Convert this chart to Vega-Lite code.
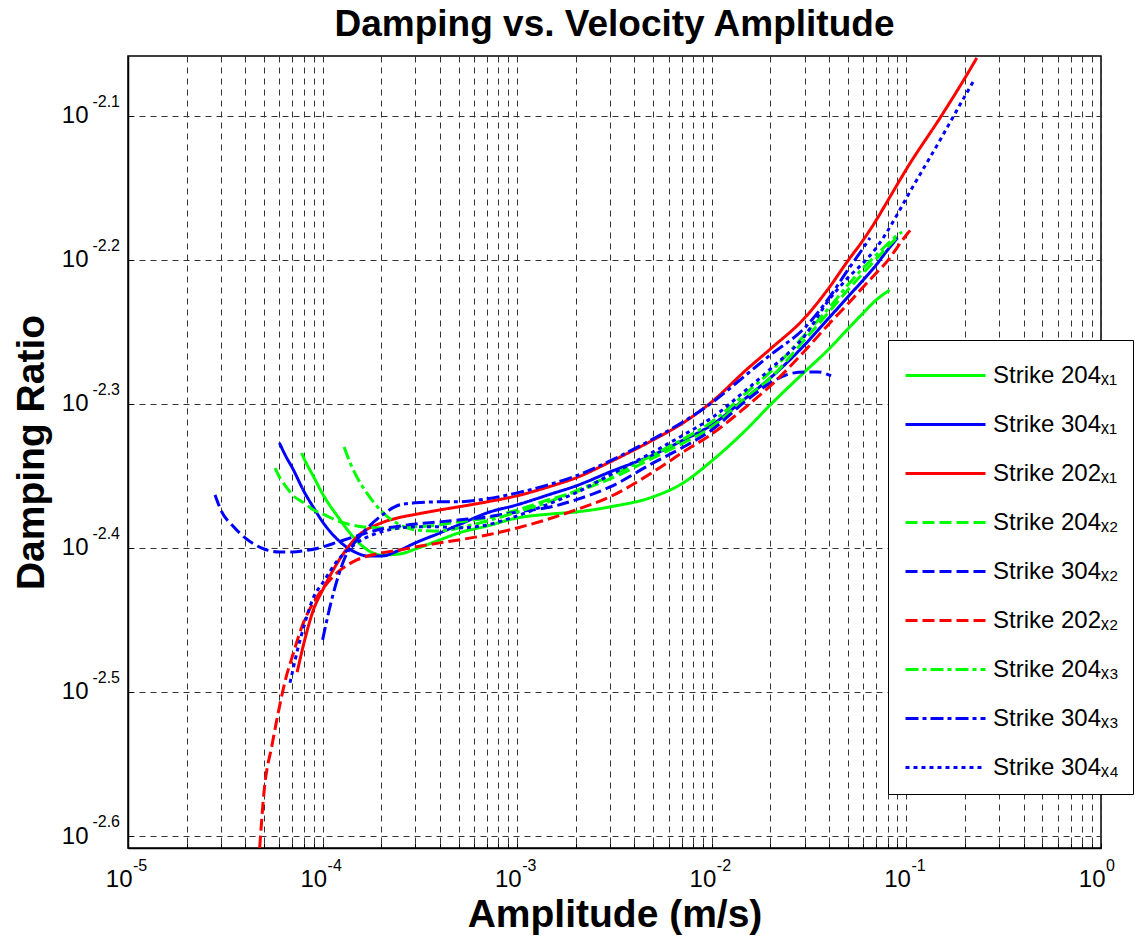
{
  "$schema": "https://vega.github.io/schema/vega-lite/v6.json",
  "width": 973,
  "height": 792,
  "autosize": {"type": "none"},
  "padding": {"left": 128, "top": 56, "right": 39, "bottom": 92},
  "background": "white",
  "config": {"font": "Liberation Sans", "view": {"stroke": "black", "strokeWidth": 1.5}},
  "title": {"text": "Damping vs. Velocity Amplitude", "fontSize": 37, "fontWeight": "bold", "color": "black", "anchor": "middle", "offset": 12},
  "datasets": {
    "xticks": [
      {"v": 0.00001, "e": "-5"}, {"v": 0.0001, "e": "-4"}, {"v": 0.001, "e": "-3"},
      {"v": 0.01, "e": "-2"}, {"v": 0.1, "e": "-1"}, {"v": 1, "e": "0"}
    ],
    "yticks": [
      {"v": 0.0025119, "e": "-2.6"}, {"v": 0.0031623, "e": "-2.5"}, {"v": 0.0039811, "e": "-2.4"},
      {"v": 0.0050119, "e": "-2.3"}, {"v": 0.0063096, "e": "-2.2"}, {"v": 0.0079433, "e": "-2.1"}
    ],
    "curves": [
      {"series":"Strike 204ₓ₁","amplitude":7.8e-5,"damping":0.004633},
      {"series":"Strike 204ₓ₁","amplitude":8e-5,"damping":0.004597},
      {"series":"Strike 204ₓ₁","amplitude":9e-5,"damping":0.004459},
      {"series":"Strike 204ₓ₁","amplitude":1e-4,"damping":0.004340},
      {"series":"Strike 204ₓ₁","amplitude":1.2e-4,"damping":0.004183},
      {"series":"Strike 204ₓ₁","amplitude":1.5e-4,"damping":0.004026},
      {"series":"Strike 204ₓ₁","amplitude":1.7e-4,"damping":0.003968},
      {"series":"Strike 204ₓ₁","amplitude":2e-4,"damping":0.003936},
      {"series":"Strike 204ₓ₁","amplitude":2.5e-4,"damping":0.003943},
      {"series":"Strike 204ₓ₁","amplitude":3e-4,"damping":0.003974},
      {"series":"Strike 204ₓ₁","amplitude":4e-4,"damping":0.004032},
      {"series":"Strike 204ₓ₁","amplitude":5e-4,"damping":0.004077},
      {"series":"Strike 204ₓ₁","amplitude":7e-4,"damping":0.004123},
      {"series":"Strike 204ₓ₁","amplitude":1e-3,"damping":0.004176},
      {"series":"Strike 204ₓ₁","amplitude":1.5e-3,"damping":0.004203},
      {"series":"Strike 204ₓ₁","amplitude":2e-3,"damping":0.004216},
      {"series":"Strike 204ₓ₁","amplitude":3e-3,"damping":0.004251},
      {"series":"Strike 204ₓ₁","amplitude":5e-3,"damping":0.004320},
      {"series":"Strike 204ₓ₁","amplitude":7e-3,"damping":0.004410},
      {"series":"Strike 204ₓ₁","amplitude":1e-2,"damping":0.004575},
      {"series":"Strike 204ₓ₁","amplitude":1.5e-2,"damping":0.004808},
      {"series":"Strike 204ₓ₁","amplitude":2e-2,"damping":0.005004},
      {"series":"Strike 204ₓ₁","amplitude":3e-2,"damping":0.005274},
      {"series":"Strike 204ₓ₁","amplitude":4e-2,"damping":0.005471},
      {"series":"Strike 204ₓ₁","amplitude":5e-2,"damping":0.005648},
      {"series":"Strike 204ₓ₁","amplitude":6e-2,"damping":0.005795},
      {"series":"Strike 204ₓ₁","amplitude":7e-2,"damping":0.005917},
      {"series":"Strike 204ₓ₁","amplitude":8.2e-2,"damping":0.006011},

      {"series":"Strike 304ₓ₁","amplitude":6e-5,"damping":0.004708},
      {"series":"Strike 304ₓ₁","amplitude":6.5e-5,"damping":0.004604},
      {"series":"Strike 304ₓ₁","amplitude":7e-5,"damping":0.004523},
      {"series":"Strike 304ₓ₁","amplitude":8e-5,"damping":0.004360},
      {"series":"Strike 304ₓ₁","amplitude":9e-5,"damping":0.004244},
      {"series":"Strike 304ₓ₁","amplitude":1e-4,"damping":0.004150},
      {"series":"Strike 304ₓ₁","amplitude":1.2e-4,"damping":0.004032},
      {"series":"Strike 304ₓ₁","amplitude":1.5e-4,"damping":0.003949},
      {"series":"Strike 304ₓ₁","amplitude":1.7e-4,"damping":0.003930},
      {"series":"Strike 304ₓ₁","amplitude":2e-4,"damping":0.003930},
      {"series":"Strike 304ₓ₁","amplitude":2.5e-4,"damping":0.003968},
      {"series":"Strike 304ₓ₁","amplitude":3e-4,"damping":0.004013},
      {"series":"Strike 304ₓ₁","amplitude":4e-4,"damping":0.004077},
      {"series":"Strike 304ₓ₁","amplitude":5e-4,"damping":0.004130},
      {"series":"Strike 304ₓ₁","amplitude":7e-4,"damping":0.004210},
      {"series":"Strike 304ₓ₁","amplitude":1e-3,"damping":0.004265},
      {"series":"Strike 304ₓ₁","amplitude":1.5e-3,"damping":0.004340},
      {"series":"Strike 304ₓ₁","amplitude":2e-3,"damping":0.004395},
      {"series":"Strike 304ₓ₁","amplitude":3e-3,"damping":0.004495},
      {"series":"Strike 304ₓ₁","amplitude":5e-3,"damping":0.004619},
      {"series":"Strike 304ₓ₁","amplitude":7e-3,"damping":0.004723},
      {"series":"Strike 304ₓ₁","amplitude":1e-2,"damping":0.004846},
      {"series":"Strike 304ₓ₁","amplitude":1.5e-2,"damping":0.005060},
      {"series":"Strike 304ₓ₁","amplitude":2e-2,"damping":0.005224},
      {"series":"Strike 304ₓ₁","amplitude":3e-2,"damping":0.005507},
      {"series":"Strike 304ₓ₁","amplitude":4e-2,"damping":0.005749},
      {"series":"Strike 304ₓ₁","amplitude":5e-2,"damping":0.005945},
      {"series":"Strike 304ₓ₁","amplitude":6e-2,"damping":0.006109},
      {"series":"Strike 304ₓ₁","amplitude":7e-2,"damping":0.006258},
      {"series":"Strike 304ₓ₁","amplitude":8e-2,"damping":0.006408},
      {"series":"Strike 304ₓ₁","amplitude":9e-2,"damping":0.006533},

      {"series":"Strike 202ₓ₁","amplitude":7.4e-5,"damping":0.003264},
      {"series":"Strike 202ₓ₁","amplitude":8e-5,"damping":0.003415},
      {"series":"Strike 202ₓ₁","amplitude":9e-5,"damping":0.003610},
      {"series":"Strike 202ₓ₁","amplitude":1e-4,"damping":0.003721},
      {"series":"Strike 202ₓ₁","amplitude":1.2e-4,"damping":0.003893},
      {"series":"Strike 202ₓ₁","amplitude":1.5e-4,"damping":0.004051},
      {"series":"Strike 202ₓ₁","amplitude":2e-4,"damping":0.004143},
      {"series":"Strike 202ₓ₁","amplitude":2.5e-4,"damping":0.004180},
      {"series":"Strike 202ₓ₁","amplitude":3e-4,"damping":0.004200},
      {"series":"Strike 202ₓ₁","amplitude":4e-4,"damping":0.004230},
      {"series":"Strike 202ₓ₁","amplitude":5e-4,"damping":0.004251},
      {"series":"Strike 202ₓ₁","amplitude":7e-4,"damping":0.004285},
      {"series":"Strike 202ₓ₁","amplitude":1e-3,"damping":0.004327},
      {"series":"Strike 202ₓ₁","amplitude":1.5e-3,"damping":0.004395},
      {"series":"Strike 202ₓ₁","amplitude":2e-3,"damping":0.004452},
      {"series":"Strike 202ₓ₁","amplitude":3e-3,"damping":0.004567},
      {"series":"Strike 202ₓ₁","amplitude":5e-3,"damping":0.004731},
      {"series":"Strike 202ₓ₁","amplitude":7e-3,"damping":0.004854},
      {"series":"Strike 202ₓ₁","amplitude":1e-2,"damping":0.005028},
      {"series":"Strike 202ₓ₁","amplitude":1.5e-2,"damping":0.005290},
      {"series":"Strike 202ₓ₁","amplitude":2e-2,"damping":0.005471},
      {"series":"Strike 202ₓ₁","amplitude":3e-2,"damping":0.005749},
      {"series":"Strike 202ₓ₁","amplitude":4e-2,"damping":0.006032},
      {"series":"Strike 202ₓ₁","amplitude":5e-2,"damping":0.006298},
      {"series":"Strike 202ₓ₁","amplitude":6e-2,"damping":0.006512},
      {"series":"Strike 202ₓ₁","amplitude":7e-2,"damping":0.006722},
      {"series":"Strike 202ₓ₁","amplitude":8e-2,"damping":0.006930},
      {"series":"Strike 202ₓ₁","amplitude":9e-2,"damping":0.007120},
      {"series":"Strike 202ₓ₁","amplitude":1e-1,"damping":0.007292},
      {"series":"Strike 202ₓ₁","amplitude":1.5e-1,"damping":0.007927},
      {"series":"Strike 202ₓ₁","amplitude":2e-1,"damping":0.008437},
      {"series":"Strike 202ₓ₁","amplitude":2.3e-1,"damping":0.008711},

      {"series":"Strike 204ₓ₂","amplitude":5.7e-5,"damping":0.004523},
      {"series":"Strike 204ₓ₂","amplitude":6e-5,"damping":0.004459},
      {"series":"Strike 204ₓ₂","amplitude":6.5e-5,"damping":0.004388},
      {"series":"Strike 204ₓ₂","amplitude":7e-5,"damping":0.004333},
      {"series":"Strike 204ₓ₂","amplitude":8e-5,"damping":0.004278},
      {"series":"Strike 204ₓ₂","amplitude":9e-5,"damping":0.004230},
      {"series":"Strike 204ₓ₂","amplitude":1e-4,"damping":0.004203},
      {"series":"Strike 204ₓ₂","amplitude":1.2e-4,"damping":0.004156},
      {"series":"Strike 204ₓ₂","amplitude":1.5e-4,"damping":0.004123},
      {"series":"Strike 204ₓ₂","amplitude":2e-4,"damping":0.004110},
      {"series":"Strike 204ₓ₂","amplitude":2.5e-4,"damping":0.004110},
      {"series":"Strike 204ₓ₂","amplitude":3e-4,"damping":0.004117},
      {"series":"Strike 204ₓ₂","amplitude":4e-4,"damping":0.004130},
      {"series":"Strike 204ₓ₂","amplitude":5e-4,"damping":0.004150},
      {"series":"Strike 204ₓ₂","amplitude":7e-4,"damping":0.004176},
      {"series":"Strike 204ₓ₂","amplitude":1e-3,"damping":0.004230},
      {"series":"Strike 204ₓ₂","amplitude":1.5e-3,"damping":0.004306},
      {"series":"Strike 204ₓ₂","amplitude":2e-3,"damping":0.004354},
      {"series":"Strike 204ₓ₂","amplitude":3e-3,"damping":0.004445},
      {"series":"Strike 204ₓ₂","amplitude":5e-3,"damping":0.004597},
      {"series":"Strike 204ₓ₂","amplitude":7e-3,"damping":0.004701},
      {"series":"Strike 204ₓ₂","amplitude":1e-2,"damping":0.004831},
      {"series":"Strike 204ₓ₂","amplitude":1.5e-2,"damping":0.005060},
      {"series":"Strike 204ₓ₂","amplitude":2e-2,"damping":0.005224},
      {"series":"Strike 204ₓ₂","amplitude":3e-2,"damping":0.005551},
      {"series":"Strike 204ₓ₂","amplitude":4e-2,"damping":0.005804},
      {"series":"Strike 204ₓ₂","amplitude":5e-2,"damping":0.006011},
      {"series":"Strike 204ₓ₂","amplitude":6e-2,"damping":0.006177},
      {"series":"Strike 204ₓ₂","amplitude":7e-2,"damping":0.006318},
      {"series":"Strike 204ₓ₂","amplitude":8e-2,"damping":0.006439},
      {"series":"Strike 204ₓ₂","amplitude":9e-2,"damping":0.006543},

      {"series":"Strike 304ₓ₂","amplitude":2.8e-5,"damping":0.004333},
      {"series":"Strike 304ₓ₂","amplitude":3e-5,"damping":0.004230},
      {"series":"Strike 304ₓ₂","amplitude":3.5e-5,"damping":0.004116},
      {"series":"Strike 304ₓ₂","amplitude":4e-5,"damping":0.004045},
      {"series":"Strike 304ₓ₂","amplitude":5e-5,"damping":0.003974},
      {"series":"Strike 304ₓ₂","amplitude":6e-5,"damping":0.003955},
      {"series":"Strike 304ₓ₂","amplitude":7e-5,"damping":0.003955},
      {"series":"Strike 304ₓ₂","amplitude":8e-5,"damping":0.003962},
      {"series":"Strike 304ₓ₂","amplitude":1e-4,"damping":0.003987},
      {"series":"Strike 304ₓ₂","amplitude":1.2e-4,"damping":0.004019},
      {"series":"Strike 304ₓ₂","amplitude":1.5e-4,"damping":0.004058},
      {"series":"Strike 304ₓ₂","amplitude":2e-4,"damping":0.004103},
      {"series":"Strike 304ₓ₂","amplitude":2.5e-4,"damping":0.004123},
      {"series":"Strike 304ₓ₂","amplitude":3e-4,"damping":0.004136},
      {"series":"Strike 304ₓ₂","amplitude":4e-4,"damping":0.004150},
      {"series":"Strike 304ₓ₂","amplitude":5e-4,"damping":0.004163},
      {"series":"Strike 304ₓ₂","amplitude":7e-4,"damping":0.004183},
      {"series":"Strike 304ₓ₂","amplitude":1e-3,"damping":0.004216},
      {"series":"Strike 304ₓ₂","amplitude":1.5e-3,"damping":0.004251},
      {"series":"Strike 304ₓ₂","amplitude":2e-3,"damping":0.004299},
      {"series":"Strike 304ₓ₂","amplitude":3e-3,"damping":0.004388},
      {"series":"Strike 304ₓ₂","amplitude":5e-3,"damping":0.004560},
      {"series":"Strike 304ₓ₂","amplitude":7e-3,"damping":0.004670},
      {"series":"Strike 304ₓ₂","amplitude":1e-2,"damping":0.004807},
      {"series":"Strike 304ₓ₂","amplitude":1.5e-2,"damping":0.005036},
      {"series":"Strike 304ₓ₂","amplitude":2e-2,"damping":0.005182},
      {"series":"Strike 304ₓ₂","amplitude":2.5e-2,"damping":0.005257},
      {"series":"Strike 304ₓ₂","amplitude":3e-2,"damping":0.005274},
      {"series":"Strike 304ₓ₂","amplitude":3.5e-2,"damping":0.005274},
      {"series":"Strike 304ₓ₂","amplitude":4.1e-2,"damping":0.005240},

      {"series":"Strike 202ₓ₂","amplitude":4.75e-5,"damping":0.002465},
      {"series":"Strike 202ₓ₂","amplitude":5e-5,"damping":0.002695},
      {"series":"Strike 202ₓ₂","amplitude":5.5e-5,"damping":0.002906},
      {"series":"Strike 202ₓ₂","amplitude":6e-5,"damping":0.003088},
      {"series":"Strike 202ₓ₂","amplitude":6.5e-5,"damping":0.003239},
      {"series":"Strike 202ₓ₂","amplitude":7e-5,"damping":0.003349},
      {"series":"Strike 202ₓ₂","amplitude":8e-5,"damping":0.003537},
      {"series":"Strike 202ₓ₂","amplitude":9e-5,"damping":0.003651},
      {"series":"Strike 202ₓ₂","amplitude":1e-4,"damping":0.003728},
      {"series":"Strike 202ₓ₂","amplitude":1.2e-4,"damping":0.003831},
      {"series":"Strike 202ₓ₂","amplitude":1.5e-4,"damping":0.003905},
      {"series":"Strike 202ₓ₂","amplitude":2e-4,"damping":0.003949},
      {"series":"Strike 202ₓ₂","amplitude":2.5e-4,"damping":0.003968},
      {"series":"Strike 202ₓ₂","amplitude":3e-4,"damping":0.003987},
      {"series":"Strike 202ₓ₂","amplitude":4e-4,"damping":0.004013},
      {"series":"Strike 202ₓ₂","amplitude":5e-4,"damping":0.004032},
      {"series":"Strike 202ₓ₂","amplitude":7e-4,"damping":0.004064},
      {"series":"Strike 202ₓ₂","amplitude":1e-3,"damping":0.004110},
      {"series":"Strike 202ₓ₂","amplitude":2e-3,"damping":0.004230},
      {"series":"Strike 202ₓ₂","amplitude":3e-3,"damping":0.004320},
      {"series":"Strike 202ₓ₂","amplitude":5e-3,"damping":0.004495},
      {"series":"Strike 202ₓ₂","amplitude":7e-3,"damping":0.004633},
      {"series":"Strike 202ₓ₂","amplitude":1e-2,"damping":0.004776},
      {"series":"Strike 202ₓ₂","amplitude":1.5e-2,"damping":0.004988},
      {"series":"Strike 202ₓ₂","amplitude":2e-2,"damping":0.005157},
      {"series":"Strike 202ₓ₂","amplitude":3e-2,"damping":0.005453},
      {"series":"Strike 202ₓ₂","amplitude":4e-2,"damping":0.005694},
      {"series":"Strike 202ₓ₂","amplitude":5e-2,"damping":0.005879},
      {"series":"Strike 202ₓ₂","amplitude":6e-2,"damping":0.006041},
      {"series":"Strike 202ₓ₂","amplitude":7e-2,"damping":0.006177},
      {"series":"Strike 202ₓ₂","amplitude":8e-2,"damping":0.006298},
      {"series":"Strike 202ₓ₂","amplitude":9e-2,"damping":0.006439},
      {"series":"Strike 202ₓ₂","amplitude":1e-1,"damping":0.006564},
      {"series":"Strike 202ₓ₂","amplitude":1.08e-1,"damping":0.006647},

      {"series":"Strike 204ₓ₃","amplitude":1.29e-4,"damping":0.004678},
      {"series":"Strike 204ₓ₃","amplitude":1.4e-4,"damping":0.004545},
      {"series":"Strike 204ₓ₃","amplitude":1.5e-4,"damping":0.004459},
      {"series":"Strike 204ₓ₃","amplitude":1.7e-4,"damping":0.004340},
      {"series":"Strike 204ₓ₃","amplitude":2e-4,"damping":0.004223},
      {"series":"Strike 204ₓ₃","amplitude":2.5e-4,"damping":0.004130},
      {"series":"Strike 204ₓ₃","amplitude":3e-4,"damping":0.004097},
      {"series":"Strike 204ₓ₃","amplitude":4e-4,"damping":0.004090},
      {"series":"Strike 204ₓ₃","amplitude":5e-4,"damping":0.004110},
      {"series":"Strike 204ₓ₃","amplitude":7e-4,"damping":0.004156},
      {"series":"Strike 204ₓ₃","amplitude":1e-3,"damping":0.004216},
      {"series":"Strike 204ₓ₃","amplitude":1.5e-3,"damping":0.004292},
      {"series":"Strike 204ₓ₃","amplitude":2e-3,"damping":0.004360},
      {"series":"Strike 204ₓ₃","amplitude":3e-3,"damping":0.004466},
      {"series":"Strike 204ₓ₃","amplitude":5e-3,"damping":0.004619},
      {"series":"Strike 204ₓ₃","amplitude":7e-3,"damping":0.004731},
      {"series":"Strike 204ₓ₃","amplitude":1e-2,"damping":0.004869},
      {"series":"Strike 204ₓ₃","amplitude":1.5e-2,"damping":0.005099},
      {"series":"Strike 204ₓ₃","amplitude":2e-2,"damping":0.005274},
      {"series":"Strike 204ₓ₃","amplitude":3e-2,"damping":0.005595},
      {"series":"Strike 204ₓ₃","amplitude":4e-2,"damping":0.005841},
      {"series":"Strike 204ₓ₃","amplitude":5e-2,"damping":0.006060},
      {"series":"Strike 204ₓ₃","amplitude":6e-2,"damping":0.006227},
      {"series":"Strike 204ₓ₃","amplitude":7e-2,"damping":0.006358},
      {"series":"Strike 204ₓ₃","amplitude":8e-2,"damping":0.006470},
      {"series":"Strike 204ₓ₃","amplitude":9e-2,"damping":0.006564},
      {"series":"Strike 204ₓ₃","amplitude":9.5e-2,"damping":0.006595},

      {"series":"Strike 304ₓ₃","amplitude":1e-4,"damping":0.003437},
      {"series":"Strike 304ₓ₃","amplitude":1.1e-4,"damping":0.003640},
      {"series":"Strike 304ₓ₃","amplitude":1.2e-4,"damping":0.003800},
      {"series":"Strike 304ₓ₃","amplitude":1.3e-4,"damping":0.003917},
      {"series":"Strike 304ₓ₃","amplitude":1.5e-4,"damping":0.004032},
      {"series":"Strike 304ₓ₃","amplitude":1.7e-4,"damping":0.004110},
      {"series":"Strike 304ₓ₃","amplitude":2e-4,"damping":0.004190},
      {"series":"Strike 304ₓ₃","amplitude":2.5e-4,"damping":0.004265},
      {"series":"Strike 304ₓ₃","amplitude":3e-4,"damping":0.004278},
      {"series":"Strike 304ₓ₃","amplitude":4e-4,"damping":0.004285},
      {"series":"Strike 304ₓ₃","amplitude":5e-4,"damping":0.004285},
      {"series":"Strike 304ₓ₃","amplitude":7e-4,"damping":0.004306},
      {"series":"Strike 304ₓ₃","amplitude":1e-3,"damping":0.004347},
      {"series":"Strike 304ₓ₃","amplitude":1.5e-3,"damping":0.004410},
      {"series":"Strike 304ₓ₃","amplitude":2e-3,"damping":0.004466},
      {"series":"Strike 304ₓ₃","amplitude":3e-3,"damping":0.004575},
      {"series":"Strike 304ₓ₃","amplitude":5e-3,"damping":0.004739},
      {"series":"Strike 304ₓ₃","amplitude":7e-3,"damping":0.004862},
      {"series":"Strike 304ₓ₃","amplitude":1e-2,"damping":0.005020},
      {"series":"Strike 304ₓ₃","amplitude":1.5e-2,"damping":0.005249},
      {"series":"Strike 304ₓ₃","amplitude":2e-2,"damping":0.005419},
      {"series":"Strike 304ₓ₃","amplitude":3e-2,"damping":0.005658},
      {"series":"Strike 304ₓ₃","amplitude":4e-2,"damping":0.005936},
      {"series":"Strike 304ₓ₃","amplitude":5e-2,"damping":0.006207},
      {"series":"Strike 304ₓ₃","amplitude":6e-2,"damping":0.006429},
      {"series":"Strike 304ₓ₃","amplitude":6.5e-2,"damping":0.006533},

      {"series":"Strike 304ₓ₄","amplitude":6.8e-5,"damping":0.003209},
      {"series":"Strike 304ₓ₄","amplitude":7e-5,"damping":0.003265},
      {"series":"Strike 304ₓ₄","amplitude":7.5e-5,"damping":0.003399},
      {"series":"Strike 304ₓ₄","amplitude":8e-5,"damping":0.003508},
      {"series":"Strike 304ₓ₄","amplitude":9e-5,"damping":0.003681},
      {"series":"Strike 304ₓ₄","amplitude":1e-4,"damping":0.003764},
      {"series":"Strike 304ₓ₄","amplitude":1.2e-4,"damping":0.003905},
      {"series":"Strike 304ₓ₄","amplitude":1.5e-4,"damping":0.004013},
      {"series":"Strike 304ₓ₄","amplitude":2e-4,"damping":0.004084},
      {"series":"Strike 304ₓ₄","amplitude":2.5e-4,"damping":0.004110},
      {"series":"Strike 304ₓ₄","amplitude":3e-4,"damping":0.004117},
      {"series":"Strike 304ₓ₄","amplitude":4e-4,"damping":0.004117},
      {"series":"Strike 304ₓ₄","amplitude":5e-4,"damping":0.004110},
      {"series":"Strike 304ₓ₄","amplitude":7e-4,"damping":0.004130},
      {"series":"Strike 304ₓ₄","amplitude":1e-3,"damping":0.004190},
      {"series":"Strike 304ₓ₄","amplitude":1.5e-3,"damping":0.004278},
      {"series":"Strike 304ₓ₄","amplitude":2e-3,"damping":0.004347},
      {"series":"Strike 304ₓ₄","amplitude":3e-3,"damping":0.004474},
      {"series":"Strike 304ₓ₄","amplitude":5e-3,"damping":0.004641},
      {"series":"Strike 304ₓ₄","amplitude":7e-3,"damping":0.004761},
      {"series":"Strike 304ₓ₄","amplitude":1e-2,"damping":0.004901},
      {"series":"Strike 304ₓ₄","amplitude":1.5e-2,"damping":0.005124},
      {"series":"Strike 304ₓ₄","amplitude":2e-2,"damping":0.005299},
      {"series":"Strike 304ₓ₄","amplitude":3e-2,"damping":0.005587},
      {"series":"Strike 304ₓ₄","amplitude":4e-2,"damping":0.005917},
      {"series":"Strike 304ₓ₄","amplitude":5e-2,"damping":0.006129},
      {"series":"Strike 304ₓ₄","amplitude":6e-2,"damping":0.006278},
      {"series":"Strike 304ₓ₄","amplitude":7e-2,"damping":0.006429},
      {"series":"Strike 304ₓ₄","amplitude":8e-2,"damping":0.006606},
      {"series":"Strike 304ₓ₄","amplitude":9e-2,"damping":0.006787},
      {"series":"Strike 304ₓ₄","amplitude":1e-1,"damping":0.006963},
      {"series":"Strike 304ₓ₄","amplitude":1.5e-1,"damping":0.007652},
      {"series":"Strike 304ₓ₄","amplitude":2e-1,"damping":0.008197},
      {"series":"Strike 304ₓ₄","amplitude":2.2e-1,"damping":0.008383}
    ]
  },
  "layer": [
    {
      "data": {"name": "curves"},
      "mark": {"type": "line", "strokeWidth": 3, "clip": true, "interpolate": "monotone"},
      "encoding": {
        "x": {
          "field": "amplitude", "type": "quantitative", "title": "Amplitude (m/s)",
          "scale": {"type": "log", "domain": [0.00001, 1], "nice": false},
          "axis": {
            "title": "Amplitude (m/s)", "titleFontSize": 39, "titleFontWeight": "bold", "titleColor": "black", "titlePadding": 4,
            "values": [0.00001,0.00002,0.00003,0.00004,0.00005,0.00006,0.00007,0.00008,0.00009,0.0001,0.0002,0.0003,0.0004,0.0005,0.0006,0.0007,0.0008,0.0009,0.001,0.002,0.003,0.004,0.005,0.006,0.007,0.008,0.009,0.01,0.02,0.03,0.04,0.05,0.06,0.07,0.08,0.09,0.1,0.2,0.3,0.4,0.5,0.6,0.7,0.8,0.9,1],
            "labelExpr": "abs(log(datum.value)/LN10 - round(log(datum.value)/LN10)) < 0.01 ? '10' : ''",
            "labelAlign": "right", "labelBaseline": "top", "labelPadding": 24, "labelOffset": 4,
            "labelFontSize": 24, "labelColor": "black", "labelOverlap": false, "labelFlush": false, "labelBound": false,
            "ticks": true, "tickSize": -5, "tickColor": "black", "tickWidth": 1,
            "grid": true, "gridColor": "#333333", "gridDash": [6, 5], "gridWidth": 1,
            "domainColor": "black", "domainWidth": 1.5
          }
        },
        "y": {
          "field": "damping", "type": "quantitative", "title": "Damping Ratio",
          "scale": {"type": "log", "domain": [0.0024643, 0.0087378], "nice": false, "zero": false},
          "axis": {
            "title": "Damping Ratio", "titleFontSize": 39, "titleFontWeight": "bold", "titleColor": "black", "titlePadding": 10,
            "values": [0.0025119, 0.0031623, 0.0039811, 0.0050119, 0.0063096, 0.0079433],
            "labelExpr": "'10'",
            "labelAlign": "right", "labelBaseline": "middle", "labelPadding": 45,
            "labelFontSize": 24, "labelColor": "black", "labelOverlap": false, "labelFlush": false, "labelBound": false,
            "ticks": true, "tickSize": -5, "tickColor": "black", "tickWidth": 1,
            "grid": true, "gridColor": "#333333", "gridDash": [6, 5], "gridWidth": 1,
            "domainColor": "black", "domainWidth": 1.5
          }
        },
        "color": {
          "field": "series", "type": "nominal",
          "scale": {
            "domain": ["Strike 204ₓ₁","Strike 304ₓ₁","Strike 202ₓ₁","Strike 204ₓ₂","Strike 304ₓ₂","Strike 202ₓ₂","Strike 204ₓ₃","Strike 304ₓ₃","Strike 304ₓ₄"],
            "range": ["#00ff00","#0000ff","#ff0000","#00ff00","#0000ff","#ff0000","#00ff00","#0000ff","#0000ff"]
          },
          "legend": {
            "title": null, "orient": "none", "legendX": 760, "legendY": 284,
            "symbolType": "M-2,0L2,0", "symbolSize": 1600, "symbolStrokeWidth": 3, "symbolOffset": 22,
            "labelFontSize": 24, "labelColor": "black", "labelOffset": 26, "labelLimit": 400,
            "fillColor": "white", "strokeColor": "black", "padding": 14, "rowPadding": 15
          }
        },
        "strokeDash": {
          "field": "series", "type": "nominal",
          "scale": {
            "domain": ["Strike 204ₓ₁","Strike 304ₓ₁","Strike 202ₓ₁","Strike 204ₓ₂","Strike 304ₓ₂","Strike 202ₓ₂","Strike 204ₓ₃","Strike 304ₓ₃","Strike 304ₓ₄"],
            "range": [[1,0],[1,0],[1,0],[12,5],[12,5],[12,5],[13,4,4,4],[13,4,4,4],[4,4]]
          },
          "legend": {
            "title": null, "orient": "none", "legendX": 760, "legendY": 284,
            "symbolType": "M-2,0L2,0", "symbolSize": 1600, "symbolStrokeWidth": 3, "symbolOffset": 22,
            "labelFontSize": 24, "labelColor": "black", "labelOffset": 26, "labelLimit": 400,
            "fillColor": "white", "strokeColor": "black", "padding": 14, "rowPadding": 15
          }
        }
      }
    },
    {
      "data": {"name": "yticks"},
      "mark": {"type": "text", "align": "right", "baseline": "alphabetic", "dx": -8, "dy": -9, "fontSize": 16, "color": "black"},
      "encoding": {
        "x": {"datum": 0.00001, "type": "quantitative"},
        "y": {"field": "v", "type": "quantitative", "title": "Damping Ratio"},
        "text": {"field": "e"}
      }
    },
    {
      "data": {"name": "xticks"},
      "mark": {"type": "text", "align": "left", "baseline": "alphabetic", "dx": 5, "dy": 23, "fontSize": 16, "color": "black"},
      "encoding": {
        "x": {"field": "v", "type": "quantitative", "title": "Amplitude (m/s)"},
        "y": {"datum": 0.0024643, "type": "quantitative"},
        "text": {"field": "e"}
      }
    }
  ]
}
